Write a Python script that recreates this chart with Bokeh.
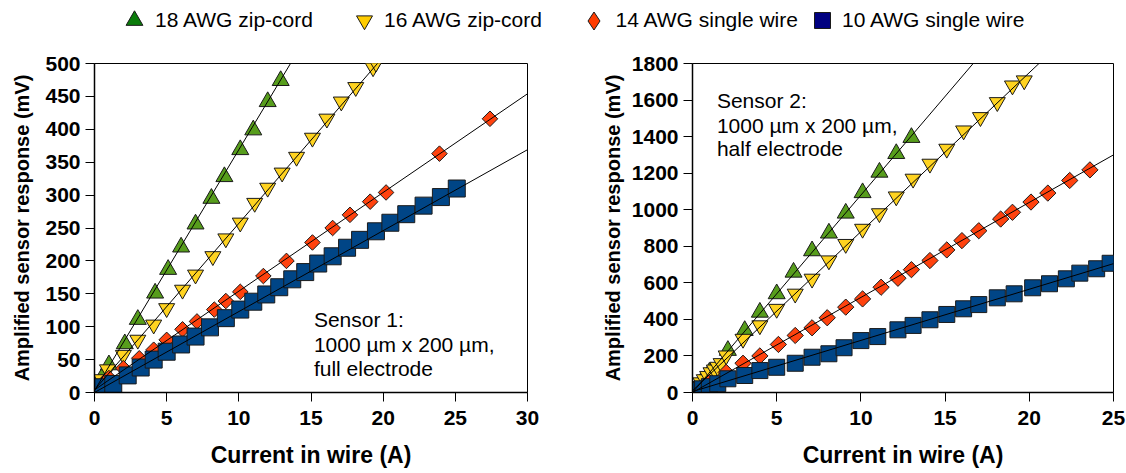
import numpy as np
from bokeh.plotting import figure
from bokeh.models import Range1d, FixedTicker, Legend, LegendItem, Label
from bokeh.layouts import column, row
from bokeh.embed import file_html
from bokeh.resources import INLINE

FONT = "Liberation Sans"

# ---------------- data ----------------
series_names = ["18 AWG zip-cord", "16 AWG zip-cord", "14 AWG single wire", "10 AWG single wire"]
series_colors = ["#579d1c", "#ffd320", "#ff420e", "#004586"]
legend_colors = ["#0b7c0b", "#ffcc00", "#ff3c00", "#000080"]

x_label = "Current in wire (A)"
y_label = "Amplified sensor response (mV)"

# Sensor 1 (full electrode)
s1_x_ticks = [0, 5, 10, 15, 20, 25, 30]
s1_y_ticks = [0, 50, 100, 150, 200, 250, 300, 350, 400, 450, 500]
s1_18_x = [0.1, 0.3, 0.5, 1.0, 2.1, 3.0, 4.2, 5.1, 6.0, 7.0, 8.1, 9.0, 10.1, 11.0, 12.0, 12.9]
s1_18_y = [5, 12, 22, 42, 74, 111, 151, 187, 221, 256, 295, 328, 369, 399, 442, 474]
s1_16_x = [0.1, 0.3, 0.5, 0.9, 2.0, 3.0, 4.1, 5.0, 6.1, 7.0, 8.2, 9.1, 10.1, 11.1, 12.0, 13.0, 14.0,
           15.1, 16.1, 17.1, 18.1, 19.3, 19.5]
s1_16_y = [6, 12, 20, 35, 57, 80, 103, 128, 156, 179, 207, 234, 258, 288, 311, 334, 358,
           387, 416, 442, 464, 494, 501]
s1_14_x = [0.1, 0.3, 0.6, 1.0, 2.0, 3.1, 4.1, 5.0, 6.1, 7.1, 8.3, 9.1, 10.1, 11.7, 13.3, 15.1,
           16.5, 17.7, 19.1, 20.2, 23.9, 27.4]
s1_14_y = [4, 8, 14, 22, 37, 52, 65, 80, 96, 108, 126, 139, 153, 177, 200, 228,
           250, 270, 290, 304, 363, 416]
s1_10_x = [0.1, 0.3, 0.6, 1.3, 2.3, 3.2, 4.1, 5.0, 6.0, 7.0, 8.0, 9.1, 10.1, 11.0, 11.9, 12.8,
           13.7, 14.6, 15.5, 16.5, 17.5, 18.4, 19.5, 20.5, 21.6, 22.8, 24.0, 25.1]
s1_10_y = [2, 5, 8, 13, 26, 38, 50, 62, 73, 85, 99, 113, 126, 138, 149, 160,
           172, 183, 196, 207, 220, 232, 245, 258, 271, 284, 297, 310]
s1_fit_slope = [36.6, 25.3, 15.0, 12.3]
s1_fit_icpt = [3, 4, 4, 0]

# Sensor 2 (half electrode)
s2_x_ticks = [0, 5, 10, 15, 20, 25]
s2_y_ticks = [0, 200, 400, 600, 800, 1000, 1200, 1400, 1600, 1800]
s2_18_x = [0.1, 0.3, 0.5, 1.0, 2.1, 3.1, 4.0, 5.0, 6.0, 7.1, 8.1, 9.1, 10.1, 11.1, 12.1, 13.0]
s2_18_y = [10, 30, 55, 110, 230, 339, 439, 540, 658, 775, 872, 981, 1093, 1205, 1307, 1395]
s2_16_x = [0.3, 0.5, 0.7, 0.9, 1.1, 1.3, 1.5, 1.7, 2.0, 3.0, 4.0, 5.0, 6.1, 7.1, 8.1, 9.1, 10.1,
           11.1, 12.1, 13.1, 14.1, 15.1, 16.1, 17.1, 18.1, 19.0, 19.7]
s2_16_y = [35, 55, 72, 90, 110, 125, 140, 160, 202, 293, 367, 457, 540, 622, 722, 812, 895,
           980, 1072, 1169, 1251, 1333, 1433, 1506, 1588, 1679, 1707]
s2_14_x = [0.3, 0.6, 1.0, 2.0, 3.0, 4.0, 5.1, 6.1, 7.1, 8.0, 9.1, 10.1, 11.2, 12.2, 13.0, 14.1,
           15.1, 16.0, 17.0, 18.3, 19.0, 20.1, 21.1, 22.4, 23.6]
s2_14_y = [15, 30, 55, 110, 160, 200, 263, 312, 354, 409, 467, 512, 576, 625, 672, 722,
           780, 831, 885, 949, 986, 1042, 1091, 1160, 1218]
s2_10_x = [0.1, 0.3, 0.6, 1.0, 1.5, 2.1, 3.1, 4.0, 5.0, 6.1, 7.1, 8.1, 9.0, 10.0, 11.0, 12.2,
           13.1, 14.1, 15.1, 16.1, 17.0, 18.1, 19.1, 20.2, 21.2, 22.2, 23.0, 24.0, 24.8]
s2_10_y = [5, 12, 20, 32, 48, 75, 93, 120, 138, 160, 193, 212, 245, 284, 306, 343,
           367, 398, 427, 458, 481, 518, 540, 573, 595, 622, 653, 677, 707]
s2_fit_slope = [108, 87, 52, 28]
s2_fit_icpt = [0, 10, 0, 5]

# ---------------- styling ----------------
OUT = "#1a1a1a"


def style_axes(p, xticks, yticks, y_title_standoff):
    p.xgrid.visible = False
    p.ygrid.visible = False
    p.outline_line_color = "black"
    p.outline_line_width = 1
    p.background_fill_color = "white"
    p.border_fill_color = "white"
    p.xaxis.ticker = FixedTicker(ticks=xticks)
    p.yaxis.ticker = FixedTicker(ticks=yticks)
    for ax in (p.xaxis[0], p.yaxis[0]):
        ax.axis_line_color = "black"
        ax.axis_line_width = 1.5
        ax.major_tick_line_color = "black"
        ax.major_tick_line_width = 1
        ax.major_tick_in = 0
        ax.major_tick_out = 9
        ax.minor_tick_line_color = None
        ax.major_label_text_font = FONT
        ax.major_label_text_font_size = "21px"
        ax.major_label_text_font_style = "bold"
        ax.major_label_text_color = "black"
        ax.axis_label_text_font = FONT
        ax.axis_label_text_font_style = "bold"
        ax.axis_label_text_color = "black"
    p.xaxis.axis_label_text_font_size = "23px"
    p.yaxis.axis_label_text_font_size = "20px"
    p.xaxis.major_label_standoff = 9
    p.yaxis.major_label_standoff = 5
    p.xaxis.axis_label = x_label
    p.yaxis.axis_label = y_label
    p.xaxis.axis_label_standoff = 14
    p.yaxis.axis_label_standoff = y_title_standoff


def add_series(p, xs_list, ys_list, sizes, xmax, slopes, icpts):
    markers = ["triangle", "inverted_triangle", "square", "square"]
    angles = [0, 0, np.pi / 4, 0]
    for xs, ys, col, mk, sz, ang in zip(xs_list, ys_list, series_colors, markers, sizes, angles):
        p.scatter(x=xs, y=ys, marker=mk, size=sz, angle=ang, fill_color=col,
                  line_color=OUT, line_width=1)
    for m, b in zip(slopes, icpts):
        lx = np.array([0.0, xmax])
        p.line(x=lx, y=m * lx + b, line_color="black", line_width=1)


PLOT_H = 420  # 10 top + 329 frame + 81 bottom

# Left plot
p1 = figure(width=580, height=PLOT_H, x_range=Range1d(0, 30), y_range=Range1d(0, 500),
            output_backend="svg", toolbar_location=None,
            min_border_left=94, min_border_right=53, min_border_top=10, min_border_bottom=81)
style_axes(p1, s1_x_ticks, s1_y_ticks, 9)
add_series(p1, [s1_18_x, s1_16_x, s1_14_x, s1_10_x], [s1_18_y, s1_16_y, s1_14_y, s1_10_y],
           [17, 16, 11, 17], 30, s1_fit_slope, s1_fit_icpt)

# Right plot
p2 = figure(width=546, height=PLOT_H, x_range=Range1d(0, 25), y_range=Range1d(0, 1800),
            output_backend="svg", toolbar_location=None,
            min_border_left=112, min_border_right=13, min_border_top=10, min_border_bottom=81)
style_axes(p2, s2_x_ticks, s2_y_ticks, 5)
add_series(p2, [s2_18_x, s2_16_x, s2_14_x, s2_10_x], [s2_18_y, s2_16_y, s2_14_y, s2_10_y],
           [17, 16, 11.5, 16], 25, s2_fit_slope, s2_fit_icpt)

# Annotations
ann1 = ["Sensor 1:", "1000 \u00b5m x 200 \u00b5m,", "full electrode"]
ann1_y = [111, 73, 36]
for t, yy in zip(ann1, ann1_y):
    p1.add_layout(Label(x=15.2, y=yy, text=t, text_font=FONT, text_font_size="21px",
                        text_color="black", text_baseline="alphabetic"))
ann2 = ["Sensor 2:", "1000 \u00b5m x 200 \u00b5m,", "half electrode"]
ann2_y = [1597, 1459, 1335]
for t, yy in zip(ann2, ann2_y):
    p2.add_layout(Label(x=1.45, y=yy, text=t, text_font=FONT, text_font_size="21px",
                        text_color="black", text_baseline="alphabetic"))

# Legend strip
lf = figure(width=1126, height=53, x_range=Range1d(0, 1), y_range=Range1d(0, 1),
            output_backend="svg", toolbar_location=None, min_border=0)
lf.axis.visible = False
lf.xgrid.visible = False
lf.ygrid.visible = False
lf.outline_line_color = None
lf.border_fill_color = "white"

leg_markers = ["triangle", "inverted_triangle", "diamond", "square"]
leg_glyph = [42, 40, 45, 40]
leg_cx = [134, 364, 593, 822]
leg_standoff = [-7, -9, -15, -9]
for name, col, mk, g, cx, so in zip(series_names, legend_colors, leg_markers, leg_glyph, leg_cx, leg_standoff):
    r = lf.scatter(x=[float("nan")], y=[float("nan")], marker=mk, size=10,
                   fill_color=col, line_color=OUT, line_width=1)
    leg = Legend(items=[LegendItem(label=name, renderers=[r])],
                 location=(cx - g / 2, 33 - g / 2), glyph_width=g, glyph_height=g,
                 label_standoff=so, padding=0, margin=0, spacing=0,
                 border_line_color=None, background_fill_alpha=0,
                 label_text_font=FONT, label_text_font_size="21px", label_text_color="black")
    lf.add_layout(leg)

layout = column(lf, row(p1, p2))
open("out.html", "w").write(file_html(layout, INLINE))
